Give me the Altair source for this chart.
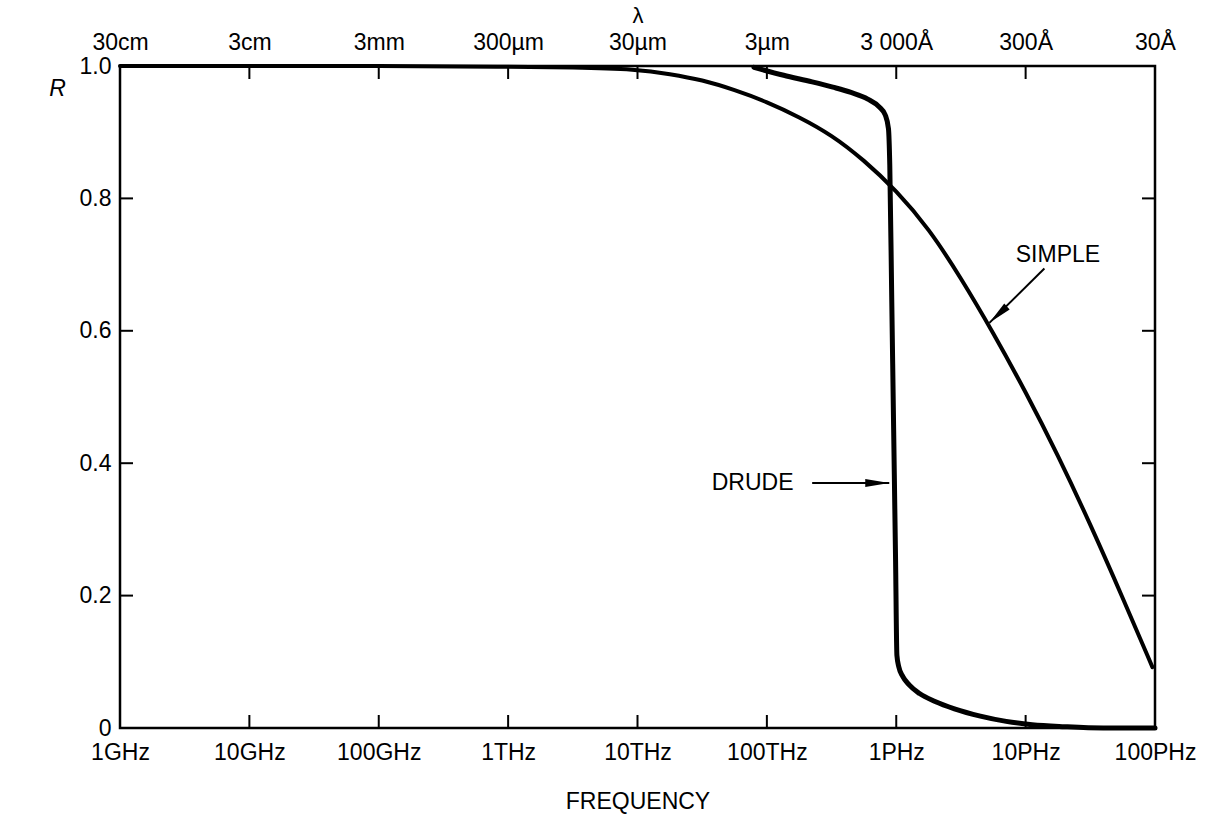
import altair as alt
import pandas as pd

# ---- data ----
freq_ticks = [9, 10, 11, 12, 13, 14, 15, 16, 17]          # log10(Hz)
freq_labels = ["1GHz", "10GHz", "100GHz", "1THz", "10THz", "100THz", "1PHz", "10PHz", "100PHz"]
wave_labels = ["30cm", "3cm", "3mm", "300\u00b5m", "30\u00b5m", "3\u00b5m", "3 000\u00c5", "300\u00c5", "30\u00c5"]
r_ticks = [0.0, 0.2, 0.4, 0.6, 0.8, 1.0]

simple_logf = [9.0, 10.0, 11.0, 12.0, 12.5, 13.0, 13.25, 13.5, 13.75, 14.0, 14.25, 14.5,
               14.75, 15.0, 15.25, 15.5, 15.75, 16.0, 16.25, 16.5, 16.75, 16.98]
simple_r = [1.0, 1.0, 1.0, 0.999, 0.998, 0.995, 0.988, 0.979, 0.964, 0.946, 0.923, 0.896,
            0.858, 0.812, 0.755, 0.68, 0.597, 0.508, 0.412, 0.308, 0.197, 0.092]

drude_logf = [13.9, 14.13, 14.35, 14.51, 14.65, 14.78, 14.87, 14.915, 14.94, 14.95, 14.965, 14.98,
              14.995, 15.005, 15.02, 15.05, 15.1, 15.18, 15.3, 15.45, 15.65, 15.85, 16.05, 16.3, 16.6, 17.0]
drude_r = [0.998, 0.986, 0.976, 0.968, 0.96, 0.95, 0.938, 0.926, 0.905, 0.85, 0.65, 0.45,
           0.25, 0.11, 0.092, 0.078, 0.065, 0.052, 0.04, 0.029, 0.018, 0.010, 0.005, 0.002, 0.0, 0.0]

ann_text = ["SIMPLE", "DRUDE"]
ann_f = [16.25, 13.89]
ann_r = [0.715, 0.37]
arrow_f = [16.145, 14.35]
arrow_r = [0.694, 0.37]
tip_f = [15.72, 14.946]
tip_r = [0.612, 0.37]
tip_angle = [227, 90]

# ---- tables ----
simple_df = pd.DataFrame({"f": simple_logf, "r": simple_r})
drude_df = pd.DataFrame({"f": drude_logf, "r": drude_r})
xt = pd.DataFrame({"f": freq_ticks})
yt = pd.DataFrame({"r": r_ticks})
ann = pd.DataFrame({"t": ann_text, "f": ann_f, "r": ann_r, "f0": arrow_f, "r0": arrow_r,
                    "tf": tip_f, "tr": tip_r, "a": tip_angle})

W, H = 1035, 662
FONT = "Liberation Sans"
FS = 23

xscale = alt.Scale(domain=[9, 17], nice=False, zero=False)
yscale = alt.Scale(domain=[0, 1], nice=False, zero=False)

bottom_expr = "[" + ",".join("'%s'" % s for s in freq_labels) + "][round(datum.value) - 9]"
top_expr = "[" + ",".join("'%s'" % s for s in wave_labels) + "][round(datum.value) - 9]"

simple_line = alt.Chart(simple_df).mark_line(color="black", strokeWidth=4, interpolate="basis",
                                             strokeJoin="round", strokeCap="round").encode(
    x=alt.X("f:Q", scale=xscale, axis=alt.Axis(
        orient="bottom", values=freq_ticks, labelExpr=bottom_expr, title="FREQUENCY",
        ticks=False, domain=False, grid=False, labelPadding=13,
        titleY=73, titleBaseline="middle",
        labelOverlap=False, labelFlush=False)),
    y=alt.Y("r:Q", scale=yscale, axis=alt.Axis(
        values=r_ticks, labelExpr="datum.value == 0 ? '0' : format(datum.value, '.1f')",
        title="R", titleAngle=0, titleFontStyle="italic", titleX=-63, titleY=22,
        titleAlign="center", titleBaseline="middle",
        ticks=False, domain=False, grid=False, labelPadding=9, labelOverlap=False)),
)

drude_line = alt.Chart(drude_df).mark_line(color="black", strokeWidth=5, interpolate="monotone",
                                           strokeJoin="round", strokeCap="round").encode(
    x=alt.X("f:Q", scale=xscale, axis=None),
    y=alt.Y("r:Q", scale=yscale, axis=None),
)

top_ticks = alt.Chart(xt).mark_rule(color="black", strokeWidth=2).encode(
    x=alt.X("f:Q", scale=xscale, axis=alt.Axis(
        orient="top", values=freq_ticks, labelExpr=top_expr, title="\u03bb",
        titleY=-51, titleBaseline="middle", titleFontSize=22,
        ticks=False, domain=False, grid=False, labelPadding=12,
        labelOverlap=False, labelFlush=False)),
    y=alt.value(0), y2=alt.value(13),
)
bottom_ticks = alt.Chart(xt).mark_rule(color="black", strokeWidth=2).encode(
    x=alt.X("f:Q", scale=xscale, axis=None),
    y=alt.value(H), y2=alt.value(H - 13),
)
left_ticks = alt.Chart(yt).mark_rule(color="black", strokeWidth=2).encode(
    y=alt.Y("r:Q", scale=yscale, axis=None),
    x=alt.value(0), x2=alt.value(13),
)
right_ticks = alt.Chart(yt).mark_rule(color="black", strokeWidth=2).encode(
    y=alt.Y("r:Q", scale=yscale, axis=None),
    x=alt.value(W), x2=alt.value(W - 13),
)

labels = alt.Chart(ann).mark_text(font=FONT, fontSize=FS, color="black",
                                  align="center", baseline="middle").encode(
    x=alt.X("f:Q", scale=xscale, axis=None),
    y=alt.Y("r:Q", scale=yscale, axis=None),
    text="t:N",
)
shafts = alt.Chart(ann).mark_rule(color="black", strokeWidth=2).encode(
    x=alt.X("f0:Q", scale=xscale, axis=None),
    y=alt.Y("r0:Q", scale=yscale, axis=None),
    x2="tf:Q", y2="tr:Q",
)
heads = alt.Chart(ann).mark_point(shape="M0,0L-0.33,2L0.33,2Z", filled=True, opacity=1,
                                  color="black", size=576, strokeWidth=0).encode(
    x=alt.X("tf:Q", scale=xscale, axis=None),
    y=alt.Y("tr:Q", scale=yscale, axis=None),
    angle=alt.Angle("a:Q", scale=None),
)

chart = alt.layer(
    simple_line, drude_line, top_ticks, bottom_ticks, left_ticks, right_ticks, shafts, heads, labels
).resolve_axis(x="independent", y="independent").properties(
    width=W, height=H,
    autosize=alt.AutoSizeParams(type="none"),
    padding={"left": 120, "top": 66, "right": 53, "bottom": 90},
    background="white",
).configure_view(stroke="black", strokeWidth=2.5).configure_axis(
    labelFont=FONT, titleFont=FONT, labelFontSize=FS, titleFontSize=FS,
    labelColor="black", titleColor="black", titleFontWeight="normal",
)

chart.save("out.html", embed_options={"renderer": "svg", "actions": False})
